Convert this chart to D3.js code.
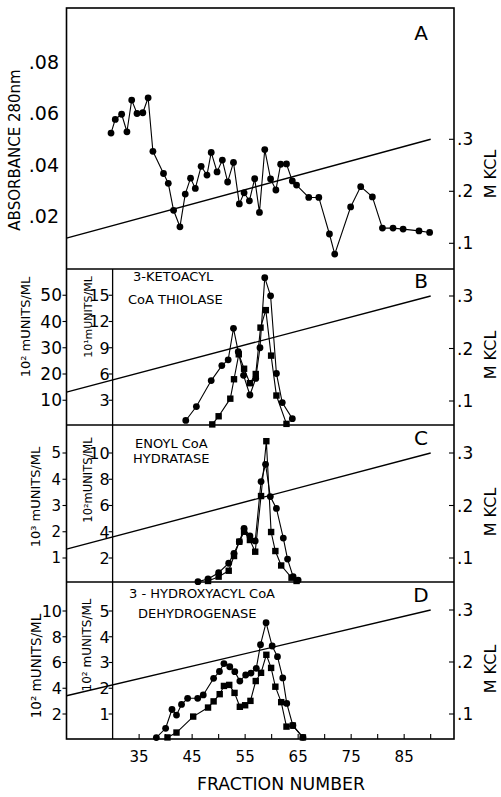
<!DOCTYPE html>
<html><head><meta charset="utf-8">
<script src="https://cdn.jsdelivr.net/npm/d3@7"></script>
<style>
body{margin:0;background:#fff}
svg{display:block}
text{font-family:"DejaVu Sans",sans-serif;fill:#000}
</style>
</head><body>
<svg id="c" width="501" height="797"></svg>
<script>
// ---------------- DATA ----------------
const fractionTicks=[35,40,45,50,55,60,65,70,75,80,85,90];
const fractionLabels=[35,45,55,65,75,85];
const absTicks=[0.02,0.04,0.06,0.08];
const kclTicks=[0.1,0.2,0.3];
const bOuterTicks=[10,20,30,40,50];
const bInnerTicks=[3,6,9,12,15];
const cOuterTicks=[1,2,3,4,5];
const cInnerTicks=[2,4,6,8,10];
const dOuterTicks=[2,4,6,8,10];
const dInnerTicks=[1,2,3,4,5];

// KCl gradient (fraction, M KCl) as drawn in each panel
const gradientFraction=[21.3,90];
const gradA=[0.110,0.300];
const gradB=[0.117,0.300];
const gradC=[0.117,0.300];
const gradD=[0.135,0.300];

// Panel A: absorbance 280 nm
const absFraction=[29.7,30.5,31.7,32.7,33.6,34.6,35.7,36.7,37.6,39.6,40.5,41.5,42.7,43.7,44.7,45.6,46.7,47.8,48.6,49.7,50.7,51.7,52.8,53.9,54.8,55.8,56.8,57.7,58.7,59.8,60.8,61.7,62.8,63.9,64.7,67.0,68.9,70.9,71.9,74.9,76.8,79.0,80.9,82.9,84.8,87.8,89.8];
const absValue=[0.0524,0.0577,0.0597,0.0529,0.0652,0.0600,0.0603,0.0661,0.0453,0.0367,0.0329,0.0224,0.0160,0.0287,0.0349,0.0309,0.0395,0.0361,0.0449,0.0373,0.0419,0.0334,0.0410,0.0249,0.0292,0.0261,0.0347,0.0216,0.0460,0.0346,0.0303,0.0403,0.0404,0.0338,0.0322,0.0274,0.0274,0.0132,0.0054,0.0237,0.0316,0.0276,0.0155,0.0155,0.0151,0.0144,0.0138];

// Panel B: 3-ketoacyl CoA thiolase (circles: outer axis 10^2 mU/ml, squares: inner axis 10^1 mU/ml)
const bCircleFraction=[43.8,45.8,48.6,50.6,51.8,52.8,53.7,54.7,55.9,57.0,57.8,58.7,59.8,60.9,62.0,63.9];
const bCircleValue=[2.3,7.6,17.5,23.2,25.4,37.4,28.5,19.5,12.0,18.3,30.0,56.7,49.8,20.2,9.1,3.0];
const bSquareFraction=[48.8,50.0,52.2,52.9,53.8,54.8,55.9,57.0,57.9,58.9,59.9,60.9,62.8];
const bSquareValue=[0.24,1.17,3.18,5.4,8.25,6.6,4.95,6.0,11.3,13.3,8.1,3.54,0.3];

// Panel C: enoyl CoA hydratase (circles: outer 10^3 mU/ml, squares: inner 10^2 mU/ml)
const cCircleFraction=[46.1,48.0,50.0,51.9,52.9,53.9,54.8,55.9,56.9,58.0,58.85,59.75,60.9,62.2,63.0,64.05,65.0];
const cCircleValue=[0.10,0.20,0.44,0.80,1.18,1.62,2.13,1.84,1.65,3.91,4.57,3.34,2.89,1.76,0.96,0.29,0.16];
const cSquareFraction=[48.0,50.0,51.9,52.9,53.9,54.8,55.9,56.9,58.0,59.0,59.9,60.7,61.8,63.75,64.7];
const cSquareValue=[0.25,0.58,1.03,2.15,3.24,4.0,3.37,2.48,6.72,10.9,3.98,2.53,1.43,0.5,0.25];

// Panel D: 3-hydroxyacyl CoA dehydrogenase (circles: outer 10^2 mU/ml, squares: inner 10^2 mU/ml)
const dCircleFraction=[38.25,40.0,41.2,42.05,43.0,44.15,46.05,47.1,49.05,50.15,51.0,52.1,53.05,54.0,55.1,56.1,57.1,57.9,58.95,60.1,61.1,62.1,62.85,64.0,65.9];
const dCircleValue=[0.17,0.89,2.35,1.92,2.74,3.22,3.22,3.48,4.77,5.30,5.92,5.67,5.29,4.56,5.03,5.18,5.55,7.38,9.09,7.28,6.45,4.80,2.82,1.11,0.19];
const dSquareFraction=[40.35,42.05,45.2,48.0,49.05,50.2,51.0,52.0,53.0,54.0,55.0,56.0,57.0,58.0,59.0,59.9,60.7,61.8,62.8,64.0,65.9];
const dSquareValue=[0.09,0.28,0.90,1.25,1.49,1.77,2.09,2.13,1.82,1.28,1.34,1.51,2.28,2.60,3.30,2.79,2.06,1.46,0.51,0.55,0.09];

// ---------------- LAYOUT ----------------
const svg=d3.select("#c");
const x=d3.scaleLinear().domain([21.3,94.4]).range([66.5,454]);
const L=x.range()[0], R=x.range()[1], XI=x(30);
const TOP=8, BOT=739;

const fmtDec=d=>d3.format(".2f")(d).replace(/^0/,"");
const fmtK=d=>d3.format(".1f")(d).replace(/^0/,"");

const panels=[
 {label:"A",top:8,bottom:269,labelY:40,
  outer:d3.scaleLinear().domain([0,0.08]).range([268,62]),outerTicks:absTicks,outerFmt:fmtDec,outerSize:19,outerX:59,
  kcl:d3.scaleLinear().domain([0.1,0.3]).range([243.3,139.3]),grad:gradA,kclTitleY:174,
  circles:[absFraction,absValue]},
 {label:"B",top:269,bottom:425,labelY:288,
  outer:d3.scaleLinear().domain([0,60]).range([426.5,269]),outerTicks:bOuterTicks,outerFmt:d=>d,outerSize:17,outerX:62,
  inner:d3.scaleLinear().domain([0,18]).range([426.5,269]),innerTicks:bInnerTicks,innerSize:16,
  kcl:d3.scaleLinear().domain([0.1,0.3]).range([401,296]),grad:gradB,kclTitleY:355,
  circles:[bCircleFraction,bCircleValue],squares:[bSquareFraction,bSquareValue],
  outerTitle:{t:"10² mUNITS/ML",x:25,y:327,s:13},innerTitle:{t:"10¹mUNITS/ML",x:88,y:317,s:11},
  note:[{t:"3-KETOACYL",x:133,y:281},{t:"CoA THIOLASE",x:128,y:304}]},
 {label:"C",top:425,bottom:582,labelY:445,
  outer:d3.scaleLinear().domain([0,6]).range([584.25,426.75]),outerTicks:cOuterTicks,outerFmt:d=>d,outerSize:15,outerX:61,
  inner:d3.scaleLinear().domain([0,12]).range([584.25,426.75]),innerTicks:cInnerTicks,innerSize:16,
  kcl:d3.scaleLinear().domain([0.1,0.3]).range([558,453]),grad:gradC,kclTitleY:512,
  circles:[cCircleFraction,cCircleValue],squares:[cSquareFraction,cSquareValue],
  outerTitle:{t:"10³ mUNITS/ML",x:35,y:497,s:13},innerTitle:{t:"10²mUNITS/ML",x:88,y:480,s:11.5},
  note:[{t:"ENOYL CoA",x:135,y:448},{t:"HYDRATASE",x:133,y:463}]},
 {label:"D",top:582,bottom:739,labelY:602,
  outer:d3.scaleLinear().domain([0,12]).range([739.75,585.25]),outerTicks:dOuterTicks,outerFmt:d=>d,outerSize:16,outerX:62,
  inner:d3.scaleLinear().domain([0,6]).range([739.75,585.25]),innerTicks:dInnerTicks,innerSize:16,
  kcl:d3.scaleLinear().domain([0.1,0.3]).range([714,610]),grad:gradD,kclTitleY:669,
  circles:[dCircleFraction,dCircleValue],squares:[dSquareFraction,dSquareValue],
  outerTitle:{t:"10² mUNITS/ML",x:36,y:666,s:13.5},innerTitle:{t:"10² mUNITS/ML",x:87,y:645,s:12},
  note:[{t:"3 - HYDROXYACYL CoA",x:129,y:598},{t:"DEHYDROGENASE",x:138,y:618}]}
];

const g=svg.append("g");

// frame
g.append("rect").attr("x",L).attr("y",TOP).attr("width",R-L).attr("height",BOT-TOP)
 .attr("fill","none").attr("stroke","#000").attr("stroke-width",1.6);
[269,425,582].forEach(yy=>g.append("line").attr("x1",L).attr("x2",R).attr("y1",yy).attr("y2",yy)
 .attr("stroke","#000").attr("stroke-width",1.6));
g.append("line").attr("x1",XI).attr("x2",XI).attr("y1",269).attr("y2",BOT).attr("stroke","#000").attr("stroke-width",1.3);

// x axis ticks (inward) and labels
g.selectAll(".xt").data(fractionTicks).enter().append("line")
 .attr("x1",d=>x(d)).attr("x2",d=>x(d)).attr("y1",BOT).attr("y2",BOT-5).attr("stroke","#000").attr("stroke-width",1.1);
g.selectAll(".xl").data(fractionLabels).enter().append("text")
 .attr("x",d=>x(d)).attr("y",762).attr("text-anchor","middle").attr("font-size",15).text(d=>d);
g.append("text").attr("x",281).attr("y",790).attr("text-anchor","middle").attr("font-size",18)
 .attr("textLength",168).attr("lengthAdjust","spacingAndGlyphs").text("FRACTION NUMBER");

// A title
g.append("text").attr("transform","translate(20,150) rotate(-90)").attr("text-anchor","middle")
 .attr("font-size",15).text("ABSORBANCE 280nm");

const line=d3.line();
panels.forEach(p=>{
  // right KCl axis
  kclTicks.forEach(k=>{
    const yy=p.kcl(k);
    g.append("line").attr("x1",R).attr("x2",R-5).attr("y1",yy).attr("y2",yy).attr("stroke","#000").attr("stroke-width",1.1);
    g.append("text").attr("x",457).attr("y",yy).attr("dy","0.36em").attr("font-size",17).text(fmtK(k));
  });
  g.append("text").attr("transform",`translate(496,${p.kclTitleY}) rotate(-90)`).attr("text-anchor","middle")
   .attr("font-size",16).text("M KCL");
  // panel letter
  g.append("text").attr("x",421).attr("y",p.labelY).attr("text-anchor","middle").attr("font-size",20).text(p.label);
  // outer left axis
  p.outerTicks.forEach(v=>{
    const yy=p.outer(v);
    if(p.inner){g.append("line").attr("x1",L).attr("x2",L-4).attr("y1",yy).attr("y2",yy).attr("stroke","#000").attr("stroke-width",1.1);}
    g.append("text").attr("x",p.outerX).attr("y",yy).attr("dy","0.36em").attr("text-anchor","end")
     .attr("font-size",p.outerSize).text(p.outerFmt(v));
  });
  if(p.inner){
    p.innerTicks.forEach(v=>{
      const yy=p.inner(v);
      g.append("line").attr("x1",XI).attr("x2",XI-4).attr("y1",yy).attr("y2",yy).attr("stroke","#000").attr("stroke-width",1.1);
      g.append("text").attr("x",XI-3).attr("y",yy).attr("dy","0.36em").attr("text-anchor","end")
       .attr("font-size",p.innerSize).text(v);
    });
    [p.outerTitle,p.innerTitle].forEach(t=>{
      g.append("text").attr("transform",`translate(${t.x},${t.y}) rotate(-90)`).attr("text-anchor","middle")
       .attr("dy","0.35em").attr("font-size",t.s).text(t.t);
    });
    p.note.forEach(n=>g.append("text").attr("x",n.x).attr("y",n.y).attr("font-size",13).text(n.t));
  }
  // gradient line
  g.append("path").attr("d",line(gradientFraction.map((f,i)=>[x(f),p.kcl(p.grad[i])])))
   .attr("fill","none").attr("stroke","#000").attr("stroke-width",1.4);
  // circles series
  const cpts=p.circles[0].map((f,i)=>[x(f),p.outer(p.circles[1][i])]);
  g.append("path").attr("d",line(cpts)).attr("fill","none").attr("stroke","#000").attr("stroke-width",1.1);
  g.selectAll(null).data(cpts).enter().append("circle").attr("cx",d=>d[0]).attr("cy",d=>d[1]).attr("r",3.4).attr("fill","#000");
  if(p.squares){
    const spts=p.squares[0].map((f,i)=>[x(f),p.inner(p.squares[1][i])]);
    g.append("path").attr("d",line(spts)).attr("fill","none").attr("stroke","#000").attr("stroke-width",1.1);
    g.selectAll(null).data(spts).enter().append("rect").attr("x",d=>d[0]-3.2).attr("y",d=>d[1]-3.2)
     .attr("width",6.4).attr("height",6.4).attr("fill","#000");
  }
});
</script>
</body></html>
